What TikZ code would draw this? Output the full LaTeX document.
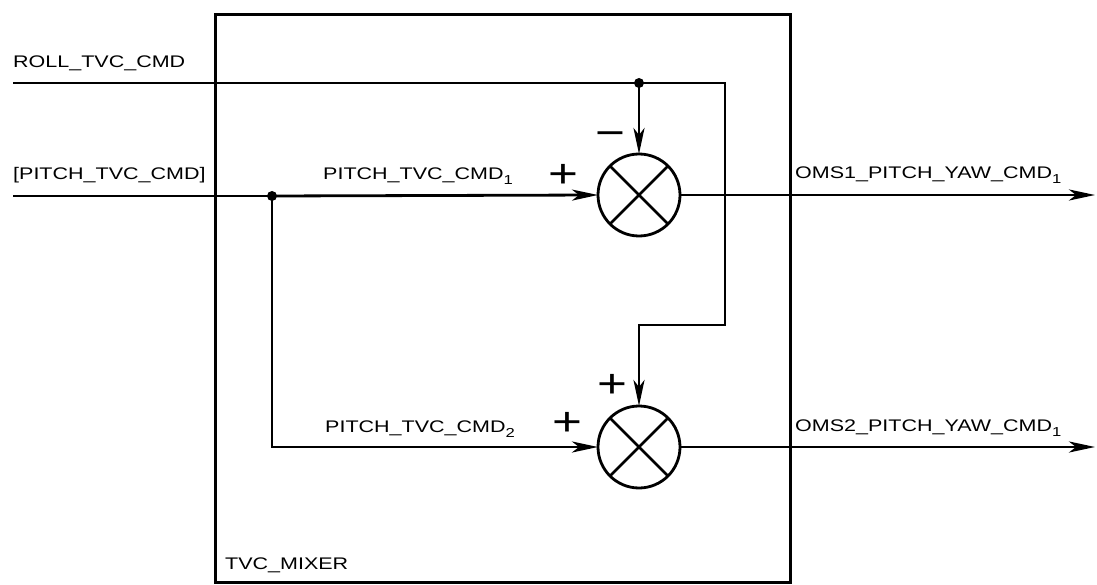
\documentclass[tikz,border=0pt]{standalone}
\usepackage{fontspec}
\setmainfont[FakeStretch=1.28]{Liberation Sans}
\usetikzlibrary{arrows.meta}
\newcommand{\subn}[1]{\raisebox{-5pt}{\fontsize{13}{13}\selectfont #1}}
\begin{document}
\begin{tikzpicture}[x=1pt,y=-1pt,
  wire/.style={line width=2.8pt},
  arr/.style={wire,-{Stealth[length=26pt,width=11pt,inset=7pt]}},
  lbl/.style={inner sep=0pt,anchor=base west,font=\fontsize{16.8}{20}\selectfont},
  sgn/.style={inner sep=0pt,font=\fontsize{40}{40}\selectfont},
  summer/.style={circle,draw,line width=2.8pt,minimum size=82pt,inner sep=0pt,outer sep=0pt},
  jdot/.style={circle,fill,inner sep=0pt,minimum size=10pt}]
\useasboundingbox (0,0) rectangle (1097,585);
% mixer box
\node[draw,line width=2.8pt,inner sep=0pt,minimum width=575pt,minimum height=568pt,anchor=north west] (box) at (214,13) {};
\node[lbl] (mix) at (225,569) {TVC\_MIXER};
% summers
\node[summer] (s1) at (639,195) {};
\node[summer] (s2) at (639,447) {};
\draw[wire] (s1.45) -- (s1.225) (s1.135) -- (s1.315);
\draw[wire] (s2.45) -- (s2.225) (s2.135) -- (s2.315);
% coordinates
\coordinate (rin) at (13,83);
\node[jdot] (rj) at (639,83) {};
\coordinate (rc) at (725,83);
\coordinate (rd) at (725,325);
\coordinate (re) at (639,325);
\coordinate (pin) at (13,196);
\node[jdot] (pj) at (272,196) {};
\coordinate (o1) at (1095,195);
\coordinate (o2) at (1095,447);
% connectors
\draw[wire] (rin) -- (rj.center);
\draw[arr] (rj.center) -- (rc) -- (rd) -- (re) -- (s2.north);
\draw[arr] (rj.center) -- (s1.north);
\draw[wire] (pin) -- (pj.center);
\draw[arr] (pj.center) -- (s1.west);
\draw[arr] (pj.center) |- (s2.west);
\draw[arr] (s1.east) -- (o1);
\draw[arr] (s2.east) -- (o2);
% labels
\node[lbl] (lroll) at (13,68) {ROLL\_TVC\_CMD};
\node[lbl] (lpitch) at (13,180) {[PITCH\_TVC\_CMD]};
\node[lbl] (lp1) at (323,180) {PITCH\_TVC\_CMD\subn{1}};
\node[lbl] (lp2) at (325,432) {PITCH\_TVC\_CMD\subn{2}};
\node[lbl] (lo1) at (795,179) {OMS1\_PITCH\_YAW\_CMD\subn{1}};
\node[lbl] (lo2) at (795,431) {OMS2\_PITCH\_YAW\_CMD\subn{1}};
% signs
\node[sgn] (p1) at (563,176) {+};
\node[sgn] (m1) at (610,139) {−};
\node[sgn] (p2) at (567,424) {+};
\node[sgn] (p3) at (612,386) {+};
\end{tikzpicture}
\end{document}
